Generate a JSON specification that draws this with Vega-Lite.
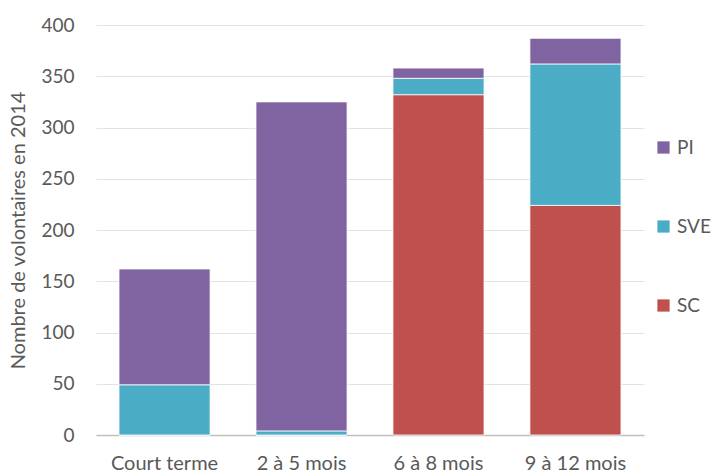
{
  "$schema": "https://vega.github.io/schema/vega-lite/v6.json",
  "width": 548,
  "height": 410,
  "autosize": {"type": "none"},
  "padding": {"left": 96, "top": 25, "right": 72, "bottom": 40},
  "background": "white",
  "config": {
    "view": {"stroke": null},
    "font": "Lato",
    "axis": {"labelColor": "#595959", "titleColor": "#595959", "labelFont": "Lato", "titleFont": "Lato"}
  },
  "data": {
    "values": [
      {"cat": "Court terme", "type": "SC", "n": 0},
      {"cat": "Court terme", "type": "SVE", "n": 49},
      {"cat": "Court terme", "type": "PI", "n": 113},
      {"cat": "2 à 5 mois", "type": "SC", "n": 0},
      {"cat": "2 à 5 mois", "type": "SVE", "n": 4},
      {"cat": "2 à 5 mois", "type": "PI", "n": 321},
      {"cat": "6 à 8 mois", "type": "SC", "n": 332},
      {"cat": "6 à 8 mois", "type": "SVE", "n": 16},
      {"cat": "6 à 8 mois", "type": "PI", "n": 10},
      {"cat": "9 à 12 mois", "type": "SC", "n": 224},
      {"cat": "9 à 12 mois", "type": "SVE", "n": 138},
      {"cat": "9 à 12 mois", "type": "PI", "n": 25}
    ]
  },
  "transform": [
    {"calculate": "indexof(['SC','SVE','PI'], datum.type)", "as": "ord"}
  ],
  "mark": {"type": "bar", "stroke": "white", "strokeWidth": 0.8},
  "encoding": {
    "x": {
      "field": "cat",
      "type": "nominal",
      "sort": ["Court terme", "2 à 5 mois", "6 à 8 mois", "9 à 12 mois"],
      "scale": {"paddingInner": 0.335, "paddingOuter": 0.168},
      "axis": {
        "title": null,
        "labelAngle": 0,
        "labelFontSize": 20,
        "labelPadding": 18,
        "ticks": false,
        "domainColor": "#bfbfbf",
        "domainWidth": 1.5
      }
    },
    "y": {
      "field": "n",
      "type": "quantitative",
      "scale": {"domain": [0, 400]},
      "axis": {
        "title": "Nombre de volontaires en 2014",
        "titleFontSize": 20,
        "titleFontWeight": "normal",
        "titlePadding": 12,
        "labelFontSize": 19,
        "labelPadding": 22,
        "values": [0, 50, 100, 150, 200, 250, 300, 350, 400],
        "ticks": false,
        "domain": false,
        "gridColor": "#e3e3e3",
        "gridWidth": 1.2
      }
    },
    "color": {
      "field": "type",
      "type": "nominal",
      "scale": {"domain": ["PI", "SVE", "SC"], "range": ["#8064A2", "#4BACC6", "#C0504D"]},
      "legend": {
        "title": null,
        "orient": "none",
        "legendX": 558,
        "legendY": 113,
        "symbolType": "square",
        "symbolSize": 150,
        "symbolStrokeWidth": 0,
        "labelFontSize": 19,
        "labelColor": "#595959",
        "labelFont": "Lato",
        "rowPadding": 59,
        "labelOffset": 4
      }
    },
    "order": {"field": "ord", "type": "quantitative"}
  }
}
